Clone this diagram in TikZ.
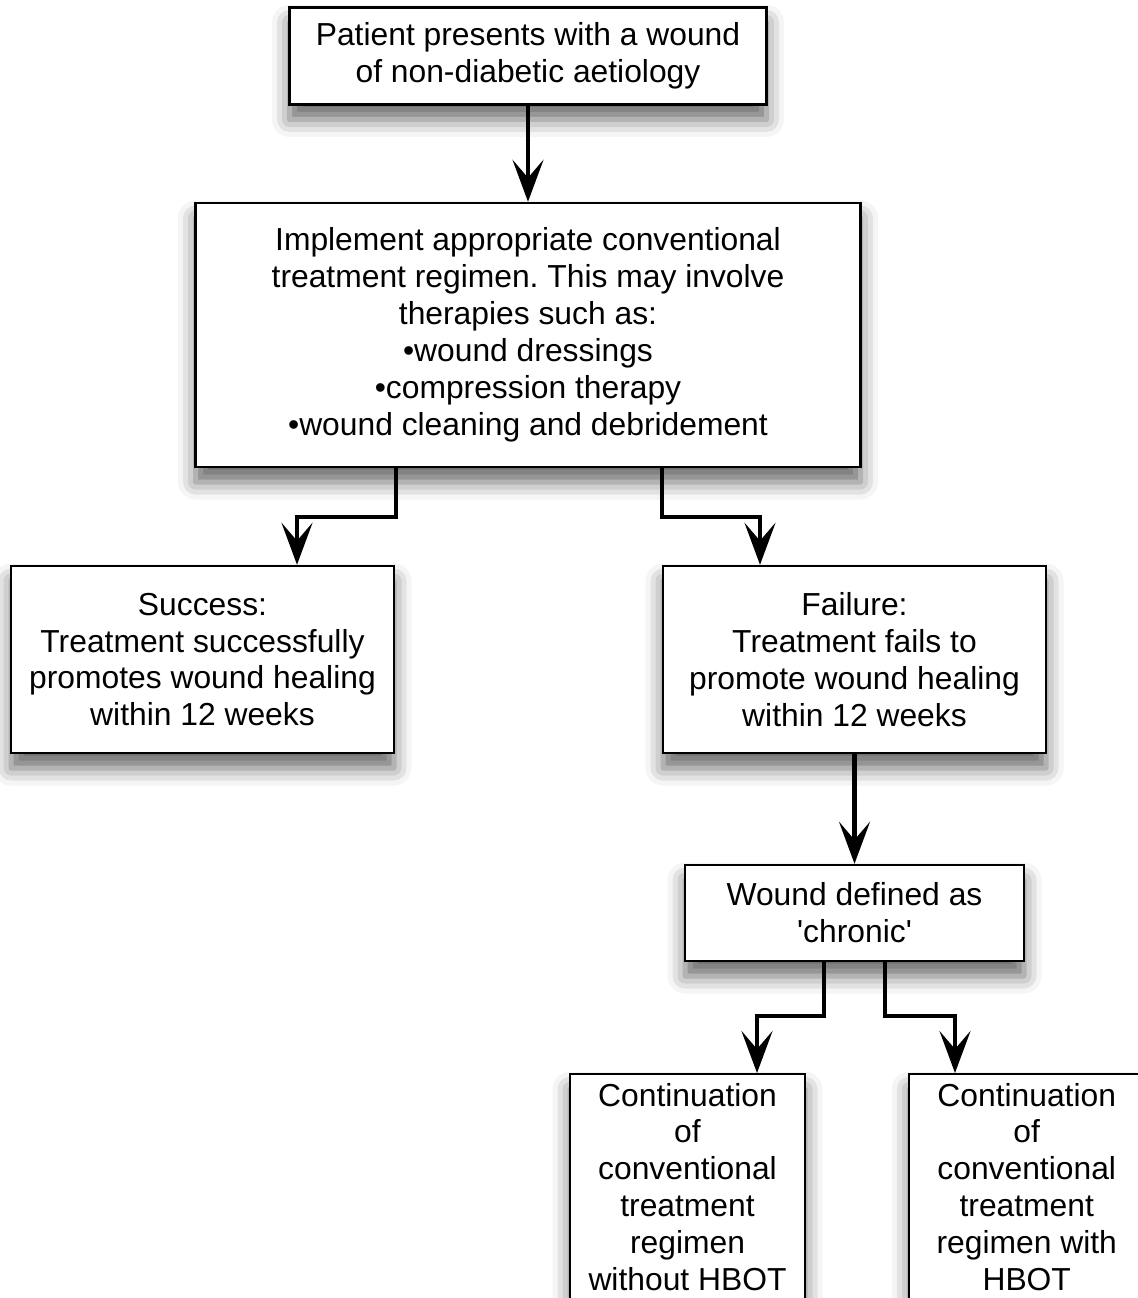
\documentclass[tikz,border=0pt]{standalone}
\usepackage{fontspec}
\setmainfont{Liberation Sans}
\usetikzlibrary{arrows.meta,shadows.blur}
\newcommand{\boxfont}{\fontsize{18.1}{21}\selectfont\frenchspacing}
\newcommand{\tallbox}[1]{\parbox[t][5.6cm][t]{4.6cm}{\centering #1}}
\tikzset{
    stepbox/.style={draw, line width=1.4pt, fill=white, align=center, inner sep=0pt,
        font=\boxfont,
        blur shadow={shadow xshift=0pt, shadow yshift=-0.3cm,
            shadow blur radius=0.35cm, shadow opacity=60}},
    flow/.style={line width=2.3pt, -{Stealth[length=0.84cm,width=0.62cm,inset=0.36cm]}},
}

\begin{document}
\begin{tikzpicture}
    \useasboundingbox (0,0) rectangle (22.74,-25.96);

    % Boxes
    \node[stepbox, minimum width=9.54cm, minimum height=1.94cm] (patient) at (10.56,-1.12)
        {Patient presents with a wound\\of non-diabetic aetiology};
    \node[stepbox, minimum width=13.3cm, minimum height=5.28cm] (implement) at (10.56,-6.70)
        {Implement appropriate conventional\\treatment regimen. This may involve\\therapies such as:\\•wound dressings\\•compression therapy\\•wound cleaning and debridement};
    \node[stepbox, minimum width=7.66cm, minimum height=3.74cm] (success) at (4.05,-13.19)
        {Success:\\Treatment successfully\\promotes wound healing\\within 12 weeks};
    \node[stepbox, minimum width=7.66cm, minimum height=3.74cm] (failure) at (17.09,-13.19)
        {Failure:\\Treatment fails to\\promote wound healing\\within 12 weeks};
    \node[stepbox, minimum width=6.78cm, minimum height=1.92cm] (chronic) at (17.09,-18.26)
        {Wound defined as\\\textquotesingle chronic\textquotesingle};
    \node[stepbox, anchor=north, inner ysep=5pt, minimum width=4.7cm] (without) at (13.75,-21.46)
        {\tallbox{Continuation\\of\\conventional\\treatment\\regimen\\without HBOT}};
    \node[stepbox, anchor=north west, inner ysep=5pt, inner xsep=0.05cm] (with) at (18.16,-21.46)
        {\tallbox{Continuation\\of\\conventional\\treatment\\regimen with\\HBOT}\hspace*{0.5cm}};

    % Arrows
    \draw[flow] (patient) -- (implement);
    \draw[flow] ([xshift=-2.64cm]implement.south) -- ++(0,-0.98) -| ([xshift=1.89cm]success.north);
    \draw[flow] ([xshift=2.68cm]implement.south) -- ++(0,-0.98) -| ([xshift=-1.89cm]failure.north);
    \draw[flow] (failure) -- (chronic);
    \draw[flow] ([xshift=-0.61cm]chronic.south) -- ++(0,-1.08) -| ([xshift=1.39cm]without.north);
    \draw[flow] ([xshift=0.61cm]chronic.south) -- ++(0,-1.08) -| ([xshift=0.94cm]with.north west);
\end{tikzpicture}
\end{document}
